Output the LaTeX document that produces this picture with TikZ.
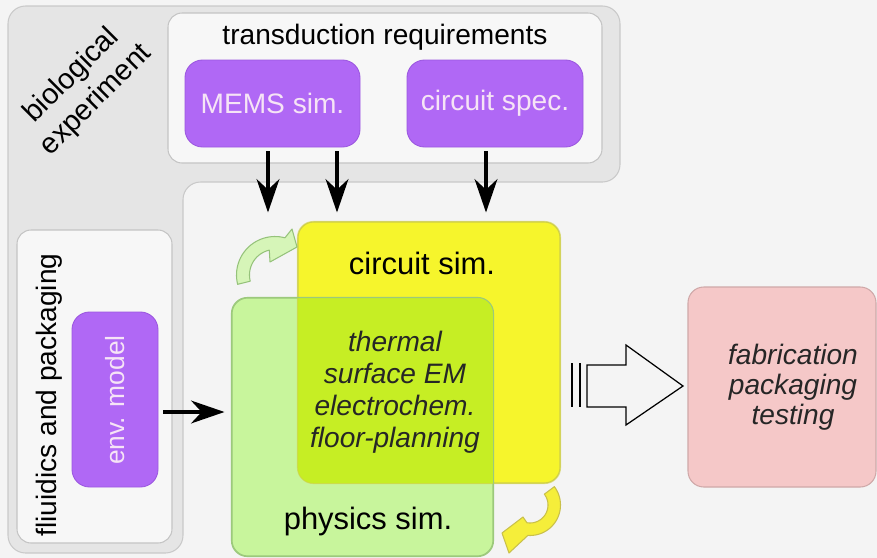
\documentclass[tikz,border=0pt]{standalone}
\usepackage{fontspec}
\setmainfont{Liberation Sans}
\usetikzlibrary{calc,arrows.meta}
\definecolor{bg}{HTML}{F4F4F4}
\definecolor{grayL}{HTML}{E5E5E5}
\definecolor{grayLine}{HTML}{C9C9C9}
\definecolor{boxfill}{HTML}{F7F7F7}
\definecolor{boxline}{HTML}{C4C4C4}
\definecolor{purp}{HTML}{B068F5}
\definecolor{purpline}{HTML}{9C58E0}
\definecolor{purptext}{HTML}{F6E4F6}
\definecolor{yel}{HTML}{F6F52C}
\definecolor{yelline}{HTML}{CFCF48}
\definecolor{grn}{HTML}{C8F59C}
\definecolor{grnline}{HTML}{9CC97C}
\definecolor{ovl}{HTML}{C6EE24}
\definecolor{pink}{HTML}{F5C8C8}
\definecolor{pinkline}{HTML}{CFA8A8}
\definecolor{garrow}{HTML}{D6F5B8}
\definecolor{garrowline}{HTML}{95C27A}
\definecolor{yarrow}{HTML}{F5EE3A}
\definecolor{yarrowline}{HTML}{C9C04A}
\newcommand\pxl[1]{#1*0.02cm}
\begin{document}
\begin{tikzpicture}[x=0.02cm,y=-0.02cm,
  box/.style={draw=boxline, fill=boxfill, rounded corners=8pt, line width=0.6pt, inner sep=0pt},
  purpbox/.style={draw=purpline, fill=purp, rounded corners=10pt, line width=0.5pt, inner sep=0pt, text=purptext, font=\fontsize{16}{19}\selectfont},
  bigtxt/.style={font=\fontsize{17.6}{20}\selectfont, inner sep=0pt},
  midtxt/.style={font=\fontsize{16}{19}\selectfont, inner sep=0pt},
  ittxt/.style={font=\fontsize{16}{18}\selectfont\itshape, align=center, inner sep=0pt, text=black!85},
  arr/.style={-{Stealth[length=19pt,width=13pt,inset=6pt]}, line width=1.8pt},
  bigbox/.style={rounded corners=9pt, line width=0.6pt, inner sep=0pt}]
\useasboundingbox (0,0) rectangle (877,558);
\fill[bg] (0,0) rectangle (877,558);
% biological experiment L-shaped region
\draw[fill=grayL, draw=grayLine, line width=0.6pt, rounded corners=10pt]
  (8,6) -- (620,6) -- (620,182) -- (183,182) -- (183,553) -- (8,553) -- cycle;
\node[midtxt, rotate=45, align=center, font=\fontsize{16.5}{19.5}\selectfont] (bio) at (84,88) {biological\\experiment};
% transduction requirements
\node[box, minimum width={\pxl{434}}, minimum height={\pxl{150}}] (trans) at (385,88) {};
\node[midtxt] (transT) at (385,37) {transduction requirements};
\node[purpbox, minimum width={\pxl{175}}, minimum height={\pxl{87}}] (mems) at (272.5,103.5) {MEMS sim.};
\node[purpbox, minimum width={\pxl{176}}, minimum height={\pxl{87}}] (spec) at (495,103.5) {circuit spec.};
% fluidics and packaging
\node[box, minimum width={\pxl{155}}, minimum height={\pxl{313}}] (flu) at (94.5,386.5) {};
\node[midtxt, rotate=90] (fluT) at (49,395) {fliuidics and packaging};
\node[purpbox, minimum width={\pxl{86}}, minimum height={\pxl{175}}, font=\fontsize{15}{18}\selectfont] (env) at (115,399.5) {};
\node[rotate=90, text=purptext, font=\fontsize{15}{18}\selectfont, inner sep=0pt] (envT) at (115,400) {env. model};
% simulation boxes
\node[bigbox, fill=yel, draw=yelline, minimum width={\pxl{262}}, minimum height={\pxl{261}}] (ybox) at (429,352.5) {};
\node[bigbox, fill=grn, draw=grnline, minimum width={\pxl{261}}, minimum height={\pxl{258}}] (gbox) at (362.5,427) {};
\begin{scope}
  \clip[rounded corners=9pt] (ybox.south west) rectangle (ybox.north east);
  \fill[ovl, rounded corners=9pt] (gbox.south west) rectangle (gbox.north east);
\end{scope}
\draw[yelline, draw opacity=0.6, line width=0.6pt, rounded corners=9pt] (ybox.south west) rectangle (ybox.north east);
\draw[grnline, line width=0.6pt, rounded corners=9pt] (gbox.south west) rectangle (gbox.north east);
\node[bigtxt] (csim) at (422,263) {circuit sim.};
\node[bigtxt] (psim) at (368,522) {physics sim.};
\node[ittxt, font=\fontsize{16}{18.2}\selectfont\itshape] (phys) at (395,392) {thermal\\surface EM\\electrochem.\\floor-planning};
% fabrication box
\node[bigbox, fill=pink, draw=pinkline, minimum width={\pxl{188}}, minimum height={\pxl{200}}] (fab) at (782,387) {};
\node[ittxt, font=\fontsize{16}{17}\selectfont\itshape] (fabT) at (793,387) {fabrication\\packaging\\testing};
% arrows
\draw[arr] ($(mems.south)+(-4.5,4)$) -- ($(mems.south |- ybox.north)+(-4.5,-9)$);
\draw[arr] ($(mems.south)+(64.5,4)$) -- ($(mems.south |- ybox.north)+(64.5,-9)$);
\draw[arr] ($(spec.south)+(-9,4)$) -- ($(spec.south |- ybox.north)+(-9,-9)$);
\draw[arr] ($(env.east)+(5,12.5)$) -- ($(env.east -| gbox.west)+(-7,12.5)$);
% hollow arrow
\draw[line width=0.7pt, fill=bg] (587,365) -- (626,365) -- (626,345) -- (683,386) -- (626,425) -- (626,407) -- (587,407) -- cycle;
\draw[line width=0.7pt] (572,363) -- (572,407) (580,363) -- (580,407);
% curved green arrow
\draw[fill=garrow, draw=garrowline, line width=0.6pt, line join=round]
  plot[domain=166:285, samples=30] ({275+38.5*cos(\x)},{275+38.5*sin(\x)})
  -- (292,229) -- (297,247) -- (270,262) -- (269.3,250.2)
  -- plot[domain=257:166, samples=30] ({275+25.5*cos(\x)},{275+25.5*sin(\x)}) -- cycle;
% curved yellow arrow
\draw[fill=yarrow, draw=yarrowline, line width=0.6pt, line join=round]
  plot[domain=323:454, samples=30] ({530+30.5*cos(\x)},{505+30.5*sin(\x)})
  -- (509,553) -- (502,533) -- (523,517) -- (526.9,522.7)
  -- plot[domain=460:323, samples=30] ({530+18*cos(\x)},{505+18*sin(\x)}) -- cycle;
\end{tikzpicture}
\end{document}
